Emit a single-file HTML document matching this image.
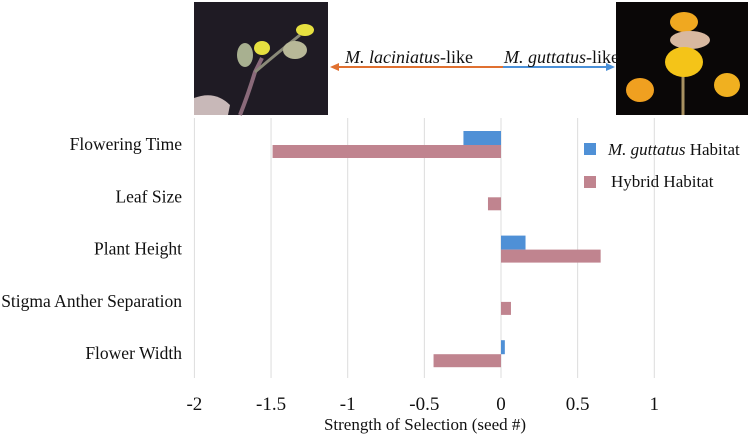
<!DOCTYPE html>
<html><head><meta charset="utf-8"><style>
body{margin:0;background:#fff;}
svg{display:block;font-family:"Liberation Serif",serif;}
</style></head><body>
<svg width="750" height="438" viewBox="0 0 750 438">
<g>
<rect x="194" y="2" width="134" height="113" fill="#1f1b24"/>
<path d="M240 115 Q248 95 255 72 L262 58" stroke="#8a6a7a" stroke-width="4" fill="none"/>
<path d="M255 72 Q275 55 300 35" stroke="#8a8a78" stroke-width="3" fill="none"/>
<ellipse cx="245" cy="55" rx="8" ry="12" fill="#a8b090"/>
<ellipse cx="295" cy="50" rx="12" ry="9" fill="#b8b898"/>
<ellipse cx="262" cy="48" rx="8" ry="7" fill="#e6e040"/>
<ellipse cx="305" cy="30" rx="9" ry="6" fill="#e6e040"/>
<path d="M194 98 Q215 90 230 105 L228 115 L194 115Z" fill="#c8b8b8"/>
</g>
<g>
<rect x="616" y="2" width="132" height="113" fill="#0a0707"/>
<line x1="683" y1="60" x2="683" y2="115" stroke="#a89060" stroke-width="3"/>
<ellipse cx="684" cy="22" rx="14" ry="10" fill="#f0a820"/>
<ellipse cx="690" cy="40" rx="20" ry="9" fill="#d8b8a0"/>
<ellipse cx="684" cy="62" rx="19" ry="15" fill="#f4c418"/>
<ellipse cx="640" cy="90" rx="14" ry="12" fill="#f0a020"/>
<ellipse cx="727" cy="85" rx="13" ry="12" fill="#f0b020"/>
</g>
<g>
<line x1="336" y1="67" x2="503" y2="67" stroke="#e07030" stroke-width="2"/>
<polygon points="330,67 339,63 339,71" fill="#e07030"/>
<line x1="503" y1="67" x2="608" y2="67" stroke="#4a90d8" stroke-width="2"/>
<polygon points="615,67 606,63 606,71" fill="#4a90d8"/>
<text x="345" y="63" font-size="18" fill="#111"><tspan font-style="italic">M. laciniatus</tspan>-like</text>
<text x="504" y="63" font-size="18" fill="#111"><tspan font-style="italic">M. guttatus</tspan>-like</text>
</g>
<g id="grid"></g><g id="bars"></g><g id="labels"></g>
<g>
<rect x="584" y="143" width="12" height="12" fill="#4f90d6"/>
<text x="608" y="155" font-size="17" fill="#111"><tspan font-style="italic">M. guttatus</tspan> Habitat</text>
<rect x="584" y="176" width="12" height="12" fill="#c0848f"/>
<text x="611" y="187" font-size="17" fill="#111">Hybrid Habitat</text>
</g>
<text x="425" y="430" font-size="17" text-anchor="middle" fill="#111">Strength of Selection (seed #)</text>
</svg>
<script>
const categories=["Flowering Time","Leaf Size","Plant Height","Stigma Anther Separation","Flower Width"];
const guttatusValues=[-0.245,0,0.16,0,0.025];
const hybridValues=[-1.49,-0.085,0.65,0.065,-0.44];
const xTicks=[-2,-1.5,-1,-0.5,0,0.5,1];
const xTickLabels=["-2","-1.5","-1","-0.5","0","0.5","1"];
const NS="http://www.w3.org/2000/svg";
function x(v){return 501+v*153.3;}
function yc(i){return 145+i*52.3;}
function mk(t,a,p){const e=document.createElementNS(NS,t);for(const k in a)e.setAttribute(k,a[k]);p.appendChild(e);return e;}
const grid=document.getElementById('grid'),bars=document.getElementById('bars'),labels=document.getElementById('labels');
xTicks.forEach((t,i)=>{
 const l=mk('line',{x1:x(t),x2:x(t),y1:118,y2:378,stroke:'#dcdcdc','stroke-width':1},grid);
 
 
 const tx=mk('text',{x:x(t),y:410,'font-size':19,'text-anchor':'middle',fill:'#111'},grid);
 tx.textContent=xTickLabels[i];
 
 
});
categories.forEach((c,i)=>{
 const t=mk('text',{x:182,y:yc(i)+5,'font-size':17.5,'text-anchor':'end',fill:'#111'},labels);
 t.textContent=c;
 
 
 const g=guttatusValues[i];
 if(g!==0){const b=mk('rect',{x:Math.min(x(0),x(g)),y:yc(i)-14,width:Math.abs(x(g)-x(0)),height:14,fill:'#4f90d6'},bars);
 
 }
 const h=hybridValues[i];
 const b2=mk('rect',{x:Math.min(x(0),x(h)),y:yc(i),width:Math.abs(x(h)-x(0)),height:13,fill:'#c0848f'},bars);
 
 
});
</script>
</body></html>
